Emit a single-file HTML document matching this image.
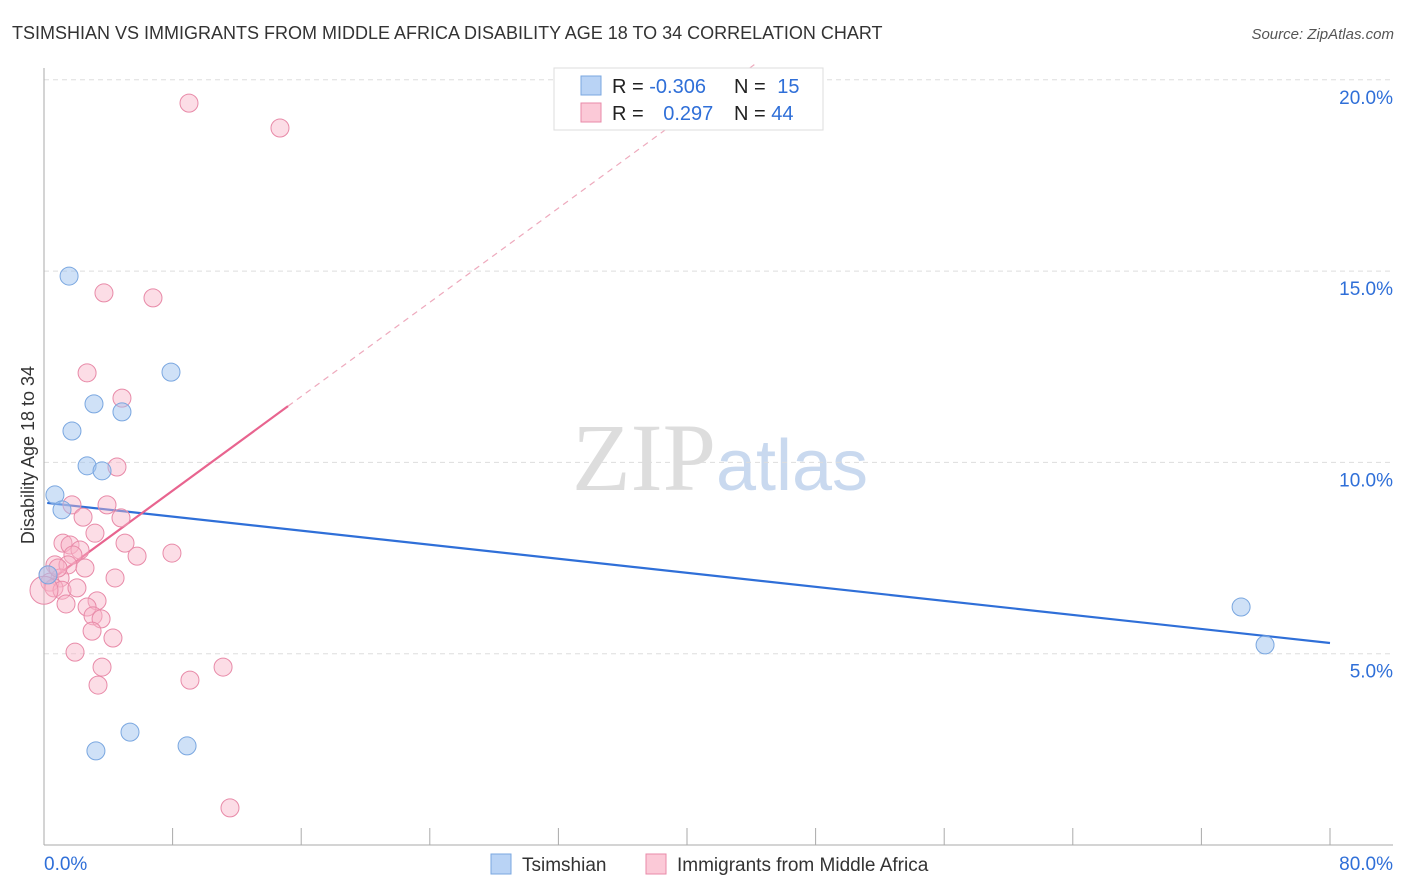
<!DOCTYPE html>
<html><head><meta charset="utf-8"><style>
body{margin:0;background:#fff;font-family:"Liberation Sans",sans-serif}
svg{display:block}
</style></head><body>
<svg id="c" width="1406" height="892" xmlns="http://www.w3.org/2000/svg">
<text x="12" y="39" font-size="18" fill="#333">TSIMSHIAN VS IMMIGRANTS FROM MIDDLE AFRICA DISABILITY AGE 18 TO 34 CORRELATION CHART</text>
<text x="1394" y="39" font-size="15" fill="#555" font-style="italic" text-anchor="end">Source: ZipAtlas.com</text>
<text x="720" y="490" font-size="96" fill="#ddd" text-anchor="middle" font-family="Liberation Serif,serif">ZIP<tspan fill="#c9d9ef" font-family="Liberation Sans,sans-serif" font-size="72">atlas</tspan></text>
<text transform="translate(34,455) rotate(-90)" font-size="18" fill="#333" text-anchor="middle">Disability Age 18 to 34</text>
<g id="grid"></g><g id="axes"></g><g id="lines"></g><g id="pts"></g>
<g>
<rect x="554" y="68" width="269" height="62" fill="#fff" stroke="#ddd"/>
<rect x="581" y="76" width="20" height="19" fill="#b9d3f5" stroke="#7aa7e0"/>
<rect x="581" y="103" width="20" height="19" fill="#fbc9d7" stroke="#e88aa8"/>
<text x="612" y="93" font-size="20" fill="#222">R = <tspan fill="#2f6fd8">-0.306</tspan></text>
<text x="734" y="93" font-size="20" fill="#222">N = <tspan fill="#2f6fd8" dx="6">15</tspan></text>
<text x="612" y="120" font-size="20" fill="#222">R = <tspan fill="#2f6fd8" dx="14">0.297</tspan></text>
<text x="734" y="120" font-size="20" fill="#222">N = <tspan fill="#2f6fd8">44</tspan></text>
</g>
<g>
<rect x="491" y="854" width="20" height="20" fill="#b9d3f5" stroke="#7aa7e0"/>
<text x="522" y="871" font-size="19" fill="#333">Tsimshian</text>
<rect x="646" y="854" width="20" height="20" fill="#fbc9d7" stroke="#e88aa8"/>
<text x="677" y="871" font-size="19" fill="#333">Immigrants from Middle Africa</text>
</g>
</svg>
<script>
const yTicks=[5,10,15,20];
const yTickLabels=["5.0%","10.0%","15.0%","20.0%"];
const xTickCount=10;
const xLabels=["0.0%","80.0%"];
const blueX=[1.56,0.68,1.12,1.74,2.68,3.11,3.61,4.85,7.90,5.35,3.23,8.90,74.47,75.96,0.25];
const blueY=[14.87,9.15,8.76,10.82,9.91,11.53,9.78,11.32,12.36,2.95,2.46,2.59,6.22,5.23,7.06];
const pinkX=[9.02,14.68,3.73,6.78,2.68,4.85,4.54,1.74,3.92,2.43,4.79,3.17,1.18,1.62,5.04,2.24,1.80,5.79,7.96,0.68,1.49,2.55,0.25,1.00,4.42,0.37,0.62,1.12,2.05,0,1.37,3.30,2.68,3.05,3.55,2.99,4.29,1.93,3.61,11.14,3.36,9.08,11.57,0.87];
const pinkY=[19.39,18.74,14.43,14.30,12.34,11.68,9.88,8.89,8.89,8.57,8.55,8.15,7.89,7.84,7.89,7.71,7.58,7.55,7.63,7.32,7.32,7.24,7.06,6.98,6.98,6.87,6.72,6.66,6.72,6.66,6.30,6.38,6.22,5.99,5.91,5.59,5.41,5.04,4.65,4.65,4.18,4.31,0.97,7.24];
const blueTrend=[0.2,8.94,80,5.28];
const pinkTrend=[0,6.80,15.18,11.47,44.2,20.4];
const NS="http://www.w3.org/2000/svg";
const sx=v=>44+v/80*1286, sy=v=>845-v/5*191.3;
function mk(t,a,p){const e=document.createElementNS(NS,t);for(const k in a)e.setAttribute(k,a[k]);document.getElementById(p).appendChild(e);return e;}
yTicks.forEach((t,i)=>{
 const l=mk('line',{x1:44,x2:1393,y1:sy(t),y2:sy(t),stroke:'#ddd','stroke-dasharray':'5,4'},'grid');
 
 
 const tx=mk('text',{x:1393,y:sy(t)+24,'font-size':19,fill:'#2f6fd8','text-anchor':'end'},'axes');
 tx.textContent=yTickLabels[i];
 
 
});
mk('line',{x1:44,x2:44,y1:68,y2:845,stroke:'#aaa'},'axes');
mk('line',{x1:44,x2:1393,y1:845,y2:845,stroke:'#aaa'},'axes');
for(let i=0;i<=xTickCount;i++){const x=sx(i*8);const t=mk('line',{x1:x,x2:x,y1:828,y2:845,stroke:'#aaa'},'axes');
 
 }
const xl0=mk('text',{x:44,y:870,'font-size':19,fill:'#2f6fd8'},'axes');xl0.textContent=xLabels[0];


const xl1=mk('text',{x:1393,y:870,'font-size':19,fill:'#2f6fd8','text-anchor':'end'},'axes');xl1.textContent=xLabels[1];


const bl=mk('line',{x1:sx(blueTrend[0]),y1:sy(blueTrend[1]),x2:sx(blueTrend[2]),y2:sy(blueTrend[3]),stroke:'#2f6fd8','stroke-width':2.2},'lines');


const pd=mk('line',{x1:sx(pinkTrend[2]),y1:sy(pinkTrend[3]),x2:sx(pinkTrend[4]),y2:sy(pinkTrend[5]),stroke:'#eeaabd','stroke-width':1.2,'stroke-dasharray':'6,5'},'lines');


const pl=mk('line',{x1:sx(pinkTrend[0]),y1:sy(pinkTrend[1]),x2:sx(pinkTrend[2]),y2:sy(pinkTrend[3]),stroke:'#e8648f','stroke-width':2.2},'lines');


pinkX.forEach((x,i)=>{const c=mk('circle',{cx:sx(x),cy:sy(pinkY[i]),r:x===0?14:9,fill:'rgba(248,180,200,0.45)',stroke:'#e88aa8','stroke-width':1},'pts');
 
 });
blueX.forEach((x,i)=>{const c=mk('circle',{cx:sx(x),cy:sy(blueY[i]),r:9,fill:'rgba(160,196,240,0.5)',stroke:'#7aa7e0','stroke-width':1},'pts');
 
 });
</script>
</body></html>
